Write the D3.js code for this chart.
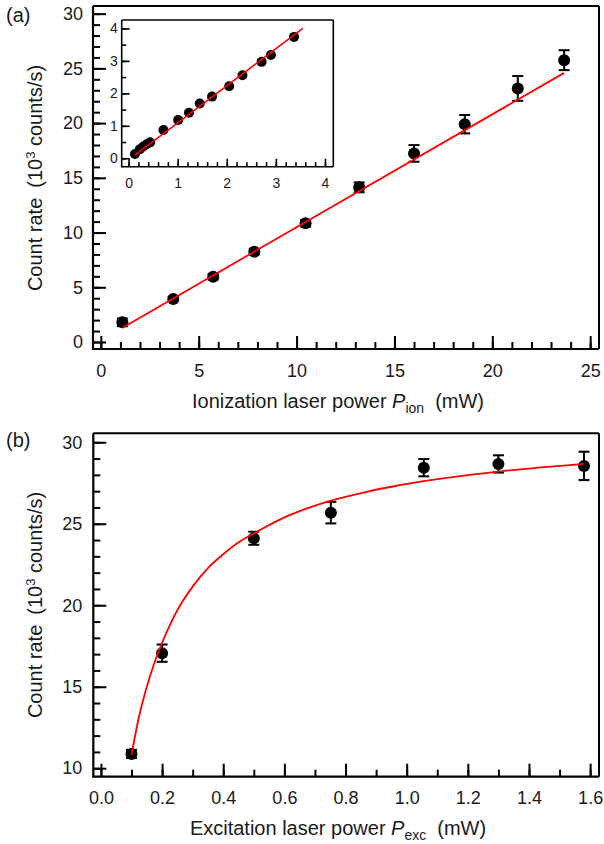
<!DOCTYPE html>
<html>
<head>
<meta charset="utf-8">
<script src="https://cdn.jsdelivr.net/npm/d3@7/dist/d3.min.js"></script>
<style>
  html, body { margin: 0; padding: 0; background: #fff; }
  svg { display: block; font-family: "Liberation Sans", Arial, Helvetica, sans-serif; }
</style>
</head>
<body>
<svg id="chart" width="604" height="844"></svg>
<script>
// ---------- DATA ----------
// Panel (a): count rate vs ionization laser power
const ionPower   = [1.1, 3.7, 5.74, 7.84, 10.46, 13.2, 16.0, 18.59, 21.3, 23.67];
const ionRate    = [1.8, 3.93, 5.96, 8.25, 10.84, 14.13, 17.23, 19.9, 23.17, 25.75];
const ionErr     = [0.35, 0.2, 0.25, 0.25, 0.3, 0.45, 0.76, 0.84, 1.13, 0.91];
const ionFitX    = [1.11, 23.67];
const ionFitY    = [1.31, 24.59];
const aXTicks    = [0, 5, 10, 15, 20, 25];
const aYTicks    = [0, 5, 10, 15, 20, 25, 30];

// Inset of (a)
const insetX     = [0.13, 0.23, 0.30, 0.37, 0.44, 0.71, 1.01, 1.23, 1.45, 1.70, 2.05, 2.32, 2.71, 2.90, 3.37];
const insetY     = [0.13, 0.28, 0.36, 0.43, 0.49, 0.87, 1.18, 1.40, 1.69, 1.90, 2.22, 2.56, 2.97, 3.18, 3.74];
const insetFitX  = [0.13, 3.55];
const insetFitY  = [0.10, 4.0];
const insetXTicks = [0, 1, 2, 3, 4];
const insetYTicks = [0, 1, 2, 3, 4];

// Panel (b): count rate vs excitation laser power
const excPower   = [0.1, 0.2, 0.5, 0.752, 1.056, 1.3, 1.58];
const excRate    = [10.88, 17.06, 24.11, 25.68, 28.44, 28.67, 28.55];
const excErr     = [0.25, 0.53, 0.4, 0.66, 0.53, 0.53, 0.87];
const excFitX    = [0.1, 0.125, 0.144, 0.17, 0.2, 0.253, 0.308, 0.35, 0.395, 0.45, 0.504, 0.613, 0.75, 0.87, 0.95, 1.05, 1.3, 1.58];
const excFitY    = [10.82, 13.2, 14.6, 16.2, 17.7, 19.8, 21.34, 22.28, 23.05, 23.86, 24.45, 25.5, 26.4, 26.96, 27.27, 27.6, 28.2, 28.67];
const bXTicks    = [0.0, 0.2, 0.4, 0.6, 0.8, 1.0, 1.2, 1.4, 1.6];
const bYTicks    = [10, 15, 20, 25, 30];

// ---------- DRAWING ----------
const svg = d3.select("#chart");
const RED = "#ff0000";

function drawPanel(opt) {
  const g = svg.append("g");
  const x = d3.scaleLinear().domain(opt.xDomain).range([opt.left, opt.right]);
  const y = d3.scaleLinear().domain(opt.yDomain).range([opt.bottom, opt.top]);

  if (opt.fillBg) {
    g.append("rect").attr("x", opt.left).attr("y", opt.top)
      .attr("width", opt.right - opt.left).attr("height", opt.bottom - opt.top)
      .attr("fill", "#fff");
  }

  const xMinor = d3.axisBottom(x).tickValues(opt.xMinor).tickSize(-opt.minorLen).tickFormat("");
  const yMinor = d3.axisLeft(y).tickValues(opt.yMinor).tickSize(-opt.minorLen).tickFormat("");
  const xMajor = d3.axisBottom(x).tickValues(opt.xTicks).tickSizeInner(-opt.majorLen).tickSizeOuter(0)
    .tickPadding(opt.xPad).tickFormat(opt.xFormat);
  const yMajor = d3.axisLeft(y).tickValues(opt.yTicks).tickSizeInner(-opt.majorLen).tickSizeOuter(0)
    .tickPadding(opt.yPad).tickFormat(opt.yFormat);

  [xMinor, xMajor].forEach(ax => {
    const a = g.append("g").attr("transform", `translate(0,${opt.bottom})`).call(ax);
    a.select(".domain").remove();
    a.selectAll(".tick line").attr("stroke", "#000").attr("stroke-width", opt.tickW);
    a.selectAll("text").attr("font-size", opt.tickFont).attr("fill", "#1a1a1a")
      .attr("font-family", "Liberation Sans, Arial, sans-serif");
  });
  [yMinor, yMajor].forEach(ax => {
    const a = g.append("g").attr("transform", `translate(${opt.left},0)`).call(ax);
    a.select(".domain").remove();
    a.selectAll(".tick line").attr("stroke", "#000").attr("stroke-width", opt.tickW);
    a.selectAll("text").attr("font-size", opt.tickFont).attr("fill", "#1a1a1a")
      .attr("font-family", "Liberation Sans, Arial, sans-serif");
  });

  // frame
  g.append("line").attr("x1", opt.left).attr("x2", opt.right).attr("y1", opt.top).attr("y2", opt.top)
    .attr("stroke", "#000").attr("stroke-width", opt.frameW);
  g.append("line").attr("x1", opt.right).attr("x2", opt.right).attr("y1", opt.top).attr("y2", opt.bottom)
    .attr("stroke", "#000").attr("stroke-width", opt.frameW);
  g.append("line").attr("x1", opt.left).attr("x2", opt.left).attr("y1", opt.top).attr("y2", opt.bottom)
    .attr("stroke", "#000").attr("stroke-width", opt.axisW);
  g.append("line").attr("x1", opt.left - opt.axisW / 2).attr("x2", opt.right).attr("y1", opt.bottom).attr("y2", opt.bottom)
    .attr("stroke", "#000").attr("stroke-width", opt.axisW);

  // error bars
  if (opt.err) {
    const eb = g.append("g").attr("stroke", "#000").attr("stroke-width", 2).attr("fill", "none");
    opt.xs.forEach((xv, i) => {
      const cx = x(xv), y1 = y(opt.ys[i] - opt.err[i]), y2 = y(opt.ys[i] + opt.err[i]);
      eb.append("line").attr("x1", cx).attr("x2", cx).attr("y1", y1).attr("y2", y2);
      eb.append("line").attr("x1", cx - opt.cap).attr("x2", cx + opt.cap).attr("y1", y1).attr("y2", y1);
      eb.append("line").attr("x1", cx - opt.cap).attr("x2", cx + opt.cap).attr("y1", y2).attr("y2", y2);
    });
  }

  // markers
  g.append("g").selectAll("circle").data(opt.xs).join("circle")
    .attr("cx", d => x(d)).attr("cy", (d, i) => y(opt.ys[i])).attr("r", opt.r).attr("fill", "#000");

  // fit line
  const line = d3.line().x(d => x(d[0])).y(d => y(d[1])).curve(opt.curve || d3.curveLinear);
  g.append("path").datum(opt.fitX.map((v, i) => [v, opt.fitY[i]]))
    .attr("d", line).attr("fill", "none").attr("stroke", RED).attr("stroke-width", opt.fitW);

  return { x, y };
}

function range(a, b, step) {
  const out = [];
  const n = Math.round((b - a) / step);
  for (let i = 0; i <= n; i++) out.push(+(a + i * step).toFixed(6));
  return out;
}

// Panel (a)
drawPanel({
  left: 93, right: 599, top: 6, bottom: 349,
  xDomain: [-0.4, 25.45], yDomain: [-0.64, 30.7],
  xTicks: aXTicks, yTicks: aYTicks,
  xMinor: range(0, 25, 1), yMinor: range(0, 30, 1),
  majorLen: 13, minorLen: 7, xPad: 15, yPad: 10,
  xFormat: d3.format("d"), yFormat: d3.format("d"),
  tickFont: 18, tickW: 2, frameW: 2, axisW: 2.2,
  xs: ionPower, ys: ionRate, err: ionErr, r: 6, cap: 5.5,
  fitX: ionFitX, fitY: ionFitY, fitW: 1.8
});

// Inset
drawPanel({
  left: 121.7, right: 333.3, top: 20, bottom: 166.7, fillBg: true,
  xDomain: [-0.14, 4.17], yDomain: [-0.26, 4.26],
  xTicks: insetXTicks, yTicks: insetYTicks,
  xMinor: range(0, 4, 0.2), yMinor: range(0, 4, 0.5),
  majorLen: 8, minorLen: 4.5, xPad: 11.5, yPad: 4,
  xFormat: d3.format("d"), yFormat: d3.format("d"),
  tickFont: 14, tickW: 1.6, frameW: 1.6, axisW: 1.6,
  xs: insetX, ys: insetY, err: null, r: 5, cap: 0,
  fitX: insetFitX, fitY: insetFitY, fitW: 1.6
});

// Panel (b)
drawPanel({
  left: 93.3, right: 599, top: 433.3, bottom: 776.7,
  xDomain: [-0.025, 1.629], yDomain: [9.48, 30.55],
  xTicks: bXTicks, yTicks: bYTicks,
  xMinor: range(0, 1.6, 0.1), yMinor: range(10, 30, 1),
  majorLen: 13, minorLen: 7, xPad: 14.5, yPad: 11,
  xFormat: d3.format(".1f"), yFormat: d3.format("d"),
  tickFont: 18, tickW: 2, frameW: 2, axisW: 2.2,
  xs: excPower, ys: excRate, err: excErr, r: 6, cap: 5.5,
  fitX: excFitX, fitY: excFitY, fitW: 1.8, curve: d3.curveCatmullRom.alpha(0.5)
});

// ---------- LABELS ----------
const FONT = 20;
function panelLabel(txt, x, y) {
  svg.append("text").attr("x", x).attr("y", y).attr("font-size", FONT).attr("fill", "#1a1a1a").text(txt);
}
panelLabel("(a)", 6, 22);
panelLabel("(b)", 6, 447);

function xTitle(cx, y, main, sub) {
  const t = svg.append("text").attr("x", cx).attr("y", y).attr("text-anchor", "middle")
    .attr("font-size", FONT).attr("fill", "#1a1a1a");
  t.append("tspan").text(main + " ");
  t.append("tspan").attr("font-style", "italic").text("P");
  t.append("tspan").attr("font-size", 14).attr("dy", 5).text(sub);
  t.append("tspan").attr("dy", -5).attr("dx", 11).text("(mW)");
}
xTitle(338, 408, "Ionization laser power", "ion");
xTitle(338, 835, "Excitation laser power", "exc");

function yTitle(cy, x) {
  const t = svg.append("text").attr("transform", `translate(${x},${cy}) rotate(-90)`)
    .attr("text-anchor", "middle").attr("font-size", FONT).attr("fill", "#1a1a1a");
  t.append("tspan").text("Count rate");
  t.append("tspan").attr("dx", 10).text("(10");
  t.append("tspan").attr("font-size", 13).attr("dy", -7).text("3");
  t.append("tspan").attr("dy", 7).text(" counts/s)");
}
yTitle(178, 42);
yTitle(605, 42);
</script>
</body>
</html>
